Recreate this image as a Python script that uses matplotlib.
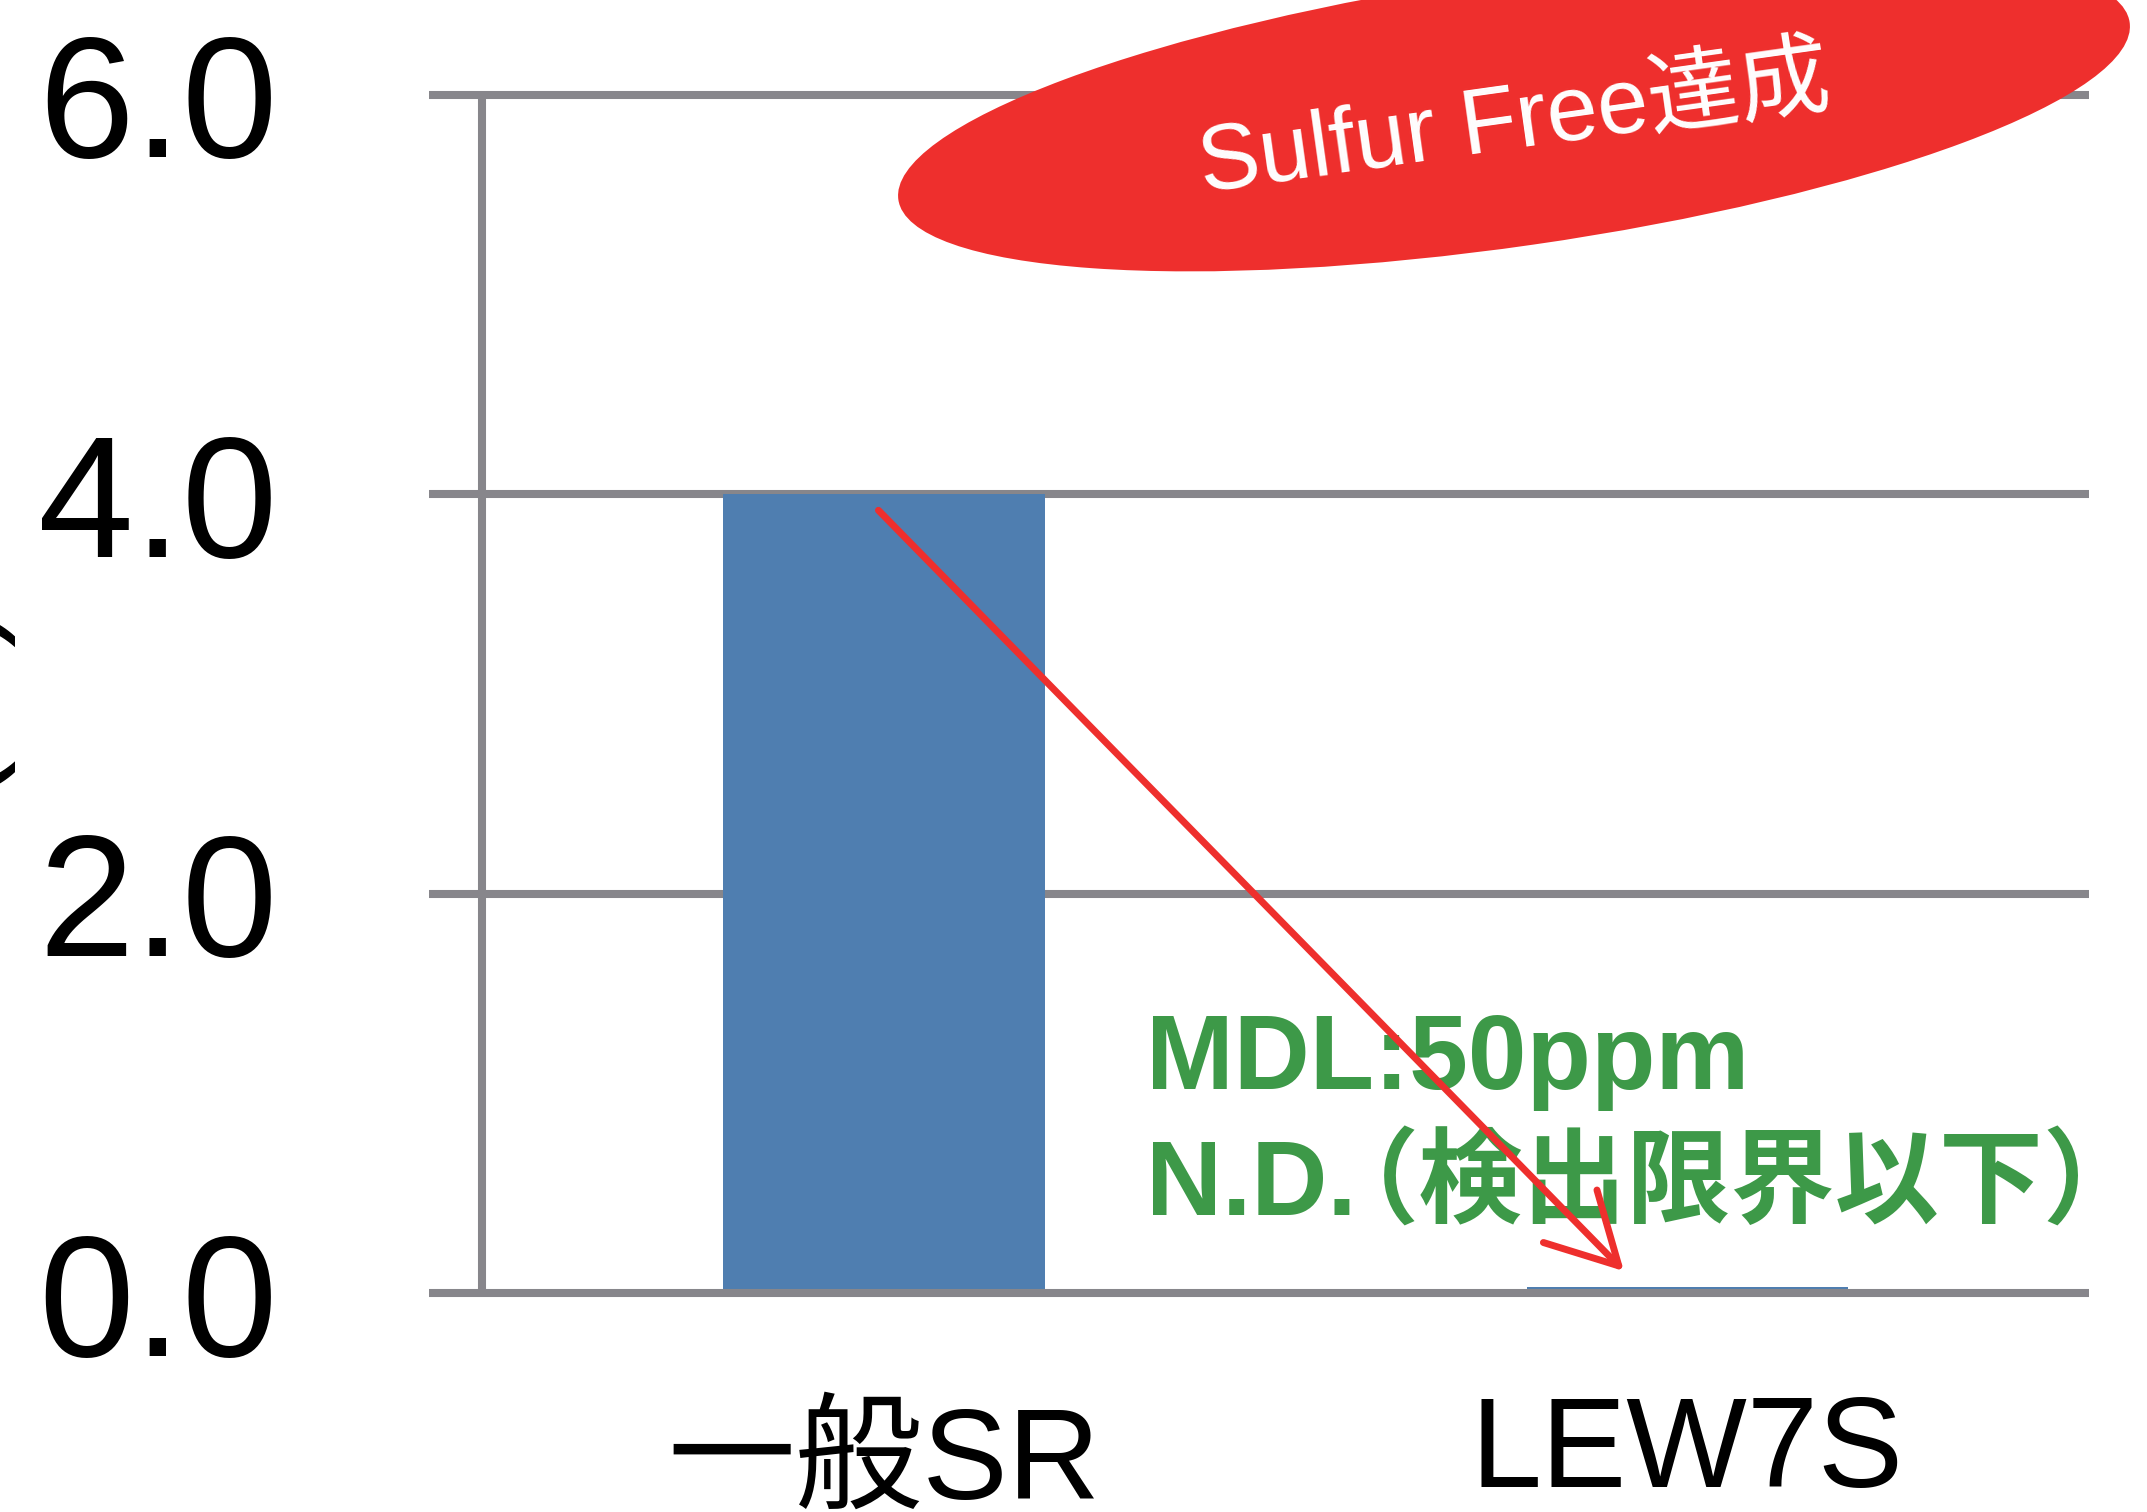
import matplotlib
matplotlib.use('Agg')
import matplotlib.pyplot as plt
import matplotlib.transforms as mtransforms
from matplotlib.patches import Ellipse

categories = ['一般SR', 'LEW7S']
values = [4.0, 0.03]
yticks = [0.0, 2.0, 4.0, 6.0]
ytick_labels = ['0.0', '2.0', '4.0', '6.0']
mdl_text = 'MDL:50ppm'
nd_text = 'N.D.'
nd_note = '（検出限界以下）'
badge_text = 'Sulfur Free達成'

plt.rcParams['font.family'] = ['Liberation Sans', 'Noto Sans CJK JP']

grid_color = '#87868b'
bar_color = '#4f7eb0'
red = '#ee2f2d'
green = '#3d9948'

fig = plt.figure(figsize=(21.47, 15.12), dpi=100)
ax = fig.add_axes([0.1998, 0.1448, 0.7732, 0.7924])

x = list(range(len(categories)))
ax.bar(x, values, width=0.4, color=bar_color, zorder=2)

# grid lines and axis lines
ax.hlines(yticks[1:], -0.5665, 1.5, colors=grid_color, linewidth=5.8, zorder=1, clip_on=False)
ax.hlines(yticks[0], -0.5665, 1.5, colors=grid_color, linewidth=5.8, zorder=3, clip_on=False)
ax.vlines(-0.5, 0, 6, colors=grid_color, linewidth=5.8, zorder=1, clip_on=False)

ax.set_xlim(-0.5665, 1.5)
ax.set_ylim(0, 6)
for s in ax.spines.values():
    s.set_visible(False)

ax.set_yticks(yticks, ytick_labels, fontsize=124)
ax.tick_params(axis='y', length=0, pad=109)
ax.set_xticks(x, categories, fontsize=92)
ax.tick_params(axis='x', length=0, pad=73)
# the Japanese label sits a little lower than the other one
lbl = ax.get_xticklabels()[0]
lbl.set_transform(lbl.get_transform() + mtransforms.ScaledTranslation(0, -0.11, fig.dpi_scale_trans))

# cut-off y label
fig.text(0.004, 0.54, '(%)', rotation=90, ha='right', va='center', fontsize=92)

# green notes
ax.text(0.326, 1.02, mdl_text, color=green, fontsize=76, fontweight='bold', ha='left', va='baseline', zorder=4)
ax.text(0.326, 0.39, nd_text, color=green, fontsize=76, fontweight='bold', ha='left', va='baseline', zorder=4)
ax.text(0.536, 0.39, nd_note, color=green, fontsize=75, fontweight='bold', family='Noto Sans CJK JP',
        ha='left', va='baseline', zorder=4)

# red arrow
ax.annotate('', xy=(0.921, 0.11), xytext=(-0.007, 3.92),
            arrowprops=dict(arrowstyle='->,head_length=50,head_width=27', color=red,
                            lw=5, mutation_scale=1, shrinkA=0, shrinkB=0),
            zorder=5)

# red badge
ell = Ellipse((15.14, 14.01), 12.44, 2.70, angle=8.2, transform=fig.dpi_scale_trans,
              facecolor=red, edgecolor='none', zorder=6)
fig.add_artist(ell)
fig.text(0.7055, 0.918, badge_text, rotation=8, color='white', fontsize=66,
         ha='center', va='center', rotation_mode='anchor', zorder=7)

fig.savefig('out.png', dpi=100)
